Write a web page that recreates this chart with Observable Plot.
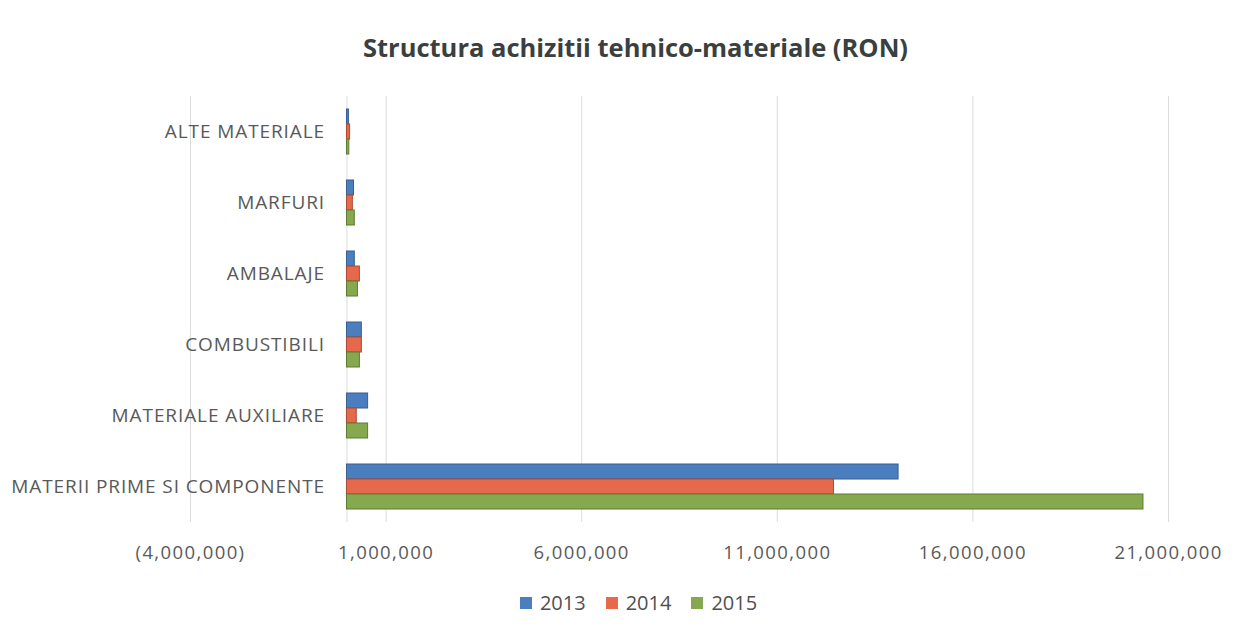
<!DOCTYPE html>
<html>
<head>
<meta charset="utf-8">
<script src="https://cdn.jsdelivr.net/npm/d3@7"></script>
<script src="https://cdn.jsdelivr.net/npm/@observablehq/plot@0.6"></script>
<style>
  html, body { margin: 0; padding: 0; background: #fff; }
  body { width: 1247px; height: 639px; overflow: hidden; font-family: "Open Sans", sans-serif; }
  #title { height: 80px; line-height: 94px; text-align: center; padding-left: 24px; font-family: "Open Sans", sans-serif; font-weight: 700; font-size: 25.5px; color: #3a3f3f; letter-spacing: 0px; }
  #legend { display: flex; justify-content: center; gap: 20px; margin-top: 20px; font-size: 20px; color: #505050; margin-left: 30px; }
  #legend span.item { display: inline-flex; align-items: center; gap: 8px; }
  #legend span.sw { width: 12px; height: 12px; display: inline-block; }
</style>
</head>
<body>
<div id="title">Structura achizitii tehnico-materiale (RON)</div>
<div id="chart"></div>
<div id="legend"></div>
<script>
const categories = ["ALTE MATERIALE", "MARFURI", "AMBALAJE", "COMBUSTIBILI", "MATERIALE AUXILIARE", "MATERII PRIME SI COMPONENTE"];
const years = ["2013", "2014", "2015"];
const values2013 = [50000, 180000, 200000, 380000, 540000, 14100000];
const values2014 = [80000, 150000, 330000, 380000, 250000, 12450000];
const values2015 = [60000, 200000, 280000, 330000, 540000, 20360000];
const xTicks = [-4000000, 1000000, 6000000, 11000000, 16000000, 21000000];
const colors = ["#4a7ebf", "#e5694a", "#86a94f"];
const strokes = ["#3a5f8f", "#a84c35", "#5f7a36"];

const series = [values2013, values2014, values2015];
const data = [];
categories.forEach((c, i) => {
  years.forEach((y, j) => data.push({category: c, year: y, value: series[j][i]}));
});

const fmt = d3.format(",");
const chart = Plot.plot({
  width: 1247,
  height: 489,
  marginLeft: 190,
  marginRight: 79,
  marginTop: 14,
  marginBottom: 45,
  style: {fontFamily: "Open Sans, sans-serif", fontSize: "18.5px", color: "#595959", background: "#fff", letterSpacing: "1.4px"},
  x: {domain: [-4000000, 21000000], ticks: xTicks, tickSize: 0, tickPadding: 23,
      tickFormat: d => d < 0 ? `(${fmt(-d)})` : fmt(d), label: null},
  fy: {domain: categories, axis: null, padding: 0},
  y: {domain: years, axis: null, paddingInner: 0, paddingOuter: 0.81},
  color: {domain: years, range: colors},
  facet: {data: data, y: "category"},
  marks: [
    Plot.ruleX(xTicks, {stroke: "#dcdcdc", strokeWidth: 1}),
    Plot.ruleX([0], {stroke: "#dcdcdc", strokeWidth: 1}),
    Plot.barX(data, {x: "value", y: "year", fill: "year",
      stroke: d => strokes[years.indexOf(d.year)], strokeWidth: 1}),
    Plot.text(categories, {fy: d => d, x: 0, text: d => d, textAnchor: "end", dx: -22,
      fontSize: 19, fill: "#595959"})
  ]
});
document.getElementById("chart").appendChild(chart);
chart.querySelectorAll("g[aria-label='text'] text").forEach(t => { t.style.letterSpacing = "0.9px"; });

const legend = document.getElementById("legend");
years.forEach((y, j) => {
  const item = document.createElement("span");
  item.className = "item";
  item.innerHTML = `<span class="sw" style="background:${colors[j]}"></span>${y}`;
  legend.appendChild(item);
});
</script>
</body>
</html>
